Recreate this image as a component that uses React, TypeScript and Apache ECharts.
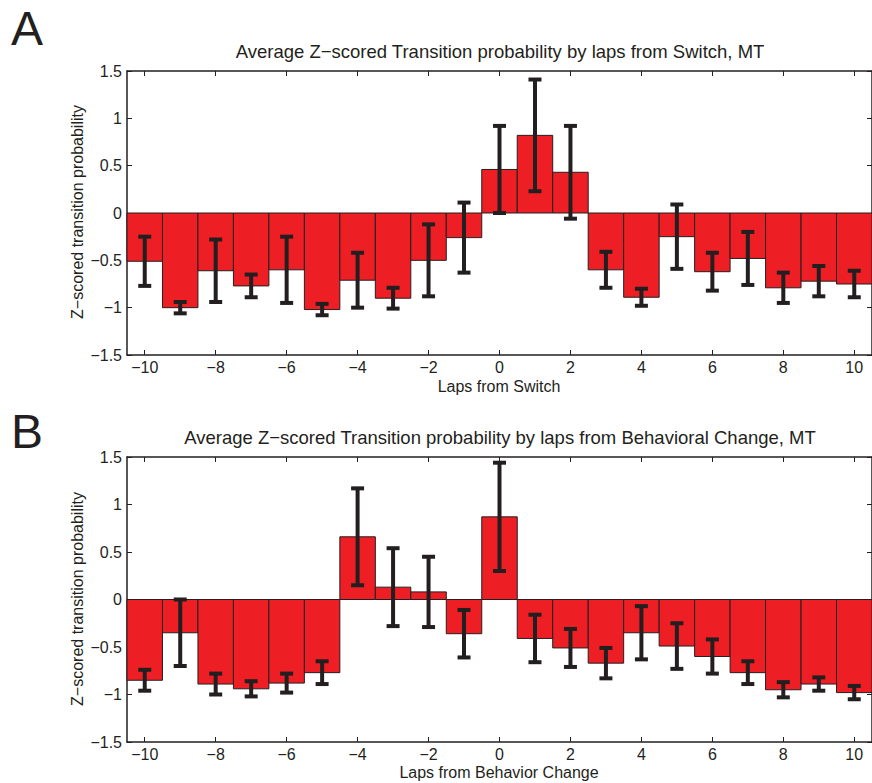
import React, { useEffect, useRef } from "react";
import * as echarts from "echarts";

// Laps relative to the event (x positions of the bars)
const LAPS = [-10, -9, -8, -7, -6, -5, -4, -3, -2, -1, 0, 1, 2, 3, 4, 5, 6, 7, 8, 9, 10];
const X_TICKS = [-10, -8, -6, -4, -2, 0, 2, 4, 6, 8, 10];

// Panel A: laps from switch
const SWITCH_MEAN = [-0.51, -1.0, -0.61, -0.77, -0.6, -1.02, -0.71, -0.9, -0.5, -0.26, 0.46, 0.82, 0.43, -0.6, -0.89, -0.25, -0.62, -0.48, -0.79, -0.72, -0.75];
const SWITCH_ERR = [0.26, 0.06, 0.33, 0.12, 0.35, 0.06, 0.29, 0.11, 0.38, 0.37, 0.46, 0.59, 0.49, 0.19, 0.09, 0.34, 0.2, 0.28, 0.16, 0.16, 0.14];

// Panel B: laps from behavior change
const BEHAV_MEAN = [-0.85, -0.35, -0.89, -0.94, -0.88, -0.77, 0.66, 0.13, 0.08, -0.36, 0.87, -0.41, -0.51, -0.67, -0.35, -0.49, -0.6, -0.77, -0.95, -0.89, -0.98];
const BEHAV_ERR = [0.11, 0.35, 0.11, 0.08, 0.1, 0.12, 0.51, 0.41, 0.37, 0.25, 0.57, 0.25, 0.2, 0.16, 0.28, 0.24, 0.18, 0.12, 0.08, 0.07, 0.07];

const TITLE_A = "Average Z\u2212scored Transition probability by laps from Switch, MT";
const TITLE_B = "Average Z\u2212scored Transition probability by laps from Behavioral Change, MT";
const XNAME_A = "Laps from Switch";
const XNAME_B = "Laps from Behavior Change";
const YNAME = "Z\u2212scored transition probability";

const FONT = "'Liberation Sans', Arial, Helvetica, sans-serif";
const INK = "#231F20";
const RED = "#ED1F24";

const fmtNum = (v: number) => String(v).replace("-", "\u2212");

function axesFor(gridIndex: number) {
  const line = { show: true, onZero: false, lineStyle: { color: INK, width: 1.5 } };
  const tick = { show: true, inside: true, length: 5, lineStyle: { color: INK, width: 1 } };
  const xBottom = {
    type: "value",
    gridIndex,
    position: "bottom",
    min: -10.5,
    max: 10.5,
    axisLine: line,
    axisTick: { ...tick, customValues: X_TICKS },
    axisLabel: {
      customValues: X_TICKS,
      formatter: (v: number) => fmtNum(v),
      fontFamily: FONT,
      fontSize: 16,
      color: INK,
      margin: 4,
    },
    splitLine: { show: false },
  };
  const xTop = {
    type: "value",
    gridIndex,
    position: "top",
    min: -10.5,
    max: 10.5,
    axisLine: line,
    axisTick: { ...tick, customValues: X_TICKS },
    axisLabel: { show: false },
    splitLine: { show: false },
  };
  const yLeft = {
    type: "value",
    gridIndex,
    position: "left",
    min: -1.5,
    max: 1.5,
    interval: 0.5,
    axisLine: line,
    axisTick: tick,
    axisLabel: {
      formatter: (v: number) => fmtNum(v),
      fontFamily: FONT,
      fontSize: 16,
      color: INK,
      margin: 5,
    },
    splitLine: { show: false },
  };
  const yRight = {
    type: "value",
    gridIndex,
    position: "right",
    min: -1.5,
    max: 1.5,
    interval: 0.5,
    axisLine: line,
    axisTick: tick,
    axisLabel: { show: false },
    splitLine: { show: false },
  };
  return { x: [xBottom, xTop], y: [yLeft, yRight] };
}

function barSeries(axisIndex: number, means: number[]) {
  return {
    type: "custom",
    xAxisIndex: axisIndex,
    yAxisIndex: axisIndex,
    clip: false,
    data: LAPS.map((x, i) => [x, means[i]]),
    encode: { x: 0, y: 1 },
    renderItem: (params: any, api: any) => {
      const x = api.value(0);
      const v = api.value(1);
      const p0 = api.coord([x - 0.5, 0]);
      const p1 = api.coord([x + 0.5, v]);
      return {
        type: "rect",
        shape: {
          x: p0[0],
          y: Math.min(p0[1], p1[1]),
          width: p1[0] - p0[0],
          height: Math.abs(p1[1] - p0[1]),
        },
        style: { fill: RED, stroke: INK, lineWidth: 1 },
      };
    },
  };
}

function errorSeries(axisIndex: number, means: number[], errs: number[]) {
  return {
    type: "custom",
    xAxisIndex: axisIndex,
    yAxisIndex: axisIndex,
    clip: false,
    z: 5,
    data: LAPS.map((x, i) => [x, means[i] - errs[i], means[i] + errs[i]]),
    encode: { x: 0, y: [1, 2] },
    renderItem: (params: any, api: any) => {
      const x = api.value(0);
      const lo = api.coord([x, api.value(1)]);
      const hi = api.coord([x, api.value(2)]);
      const cap = 6.5;
      const style = { stroke: INK, lineWidth: 4 };
      return {
        type: "group",
        children: [
          { type: "line", shape: { x1: lo[0], y1: lo[1], x2: hi[0], y2: hi[1] }, style },
          { type: "line", shape: { x1: lo[0] - cap, y1: lo[1], x2: lo[0] + cap, y2: lo[1] }, style },
          { type: "line", shape: { x1: hi[0] - cap, y1: hi[1], x2: hi[0] + cap, y2: hi[1] }, style },
        ],
      };
    },
  };
}

function label(text: string, x: number, y: number, size: number, extra: any = {}) {
  return {
    type: "text",
    x,
    y,
    silent: true,
    ...extra,
    style: {
      text,
      fontFamily: FONT,
      fontSize: size,
      fill: INK,
      align: "center",
      verticalAlign: "middle",
      ...(extra.style || {}),
    },
  };
}

export default function App() {
  const ref = useRef<HTMLDivElement>(null);

  useEffect(() => {
    if (!ref.current) return;
    const chart = echarts.init(ref.current, null, { renderer: "svg" });
    const a = axesFor(0);
    const b = axesFor(1);
    // xAxis/yAxis indices: 0 bottom A, 1 top A, 2 bottom B, 3 top B
    const sA0 = barSeries(0, SWITCH_MEAN);
    const sA1 = errorSeries(0, SWITCH_MEAN, SWITCH_ERR);
    const sB0 = barSeries(2, BEHAV_MEAN);
    const sB1 = errorSeries(2, BEHAV_MEAN, BEHAV_ERR);

    chart.setOption({
      animation: false,
      backgroundColor: "#ffffff",
      grid: [
        { left: 127, right: -3, top: 71, height: 284 },
        { left: 127, right: -3, top: 457, height: 285 },
      ],
      xAxis: [...a.x, ...b.x],
      yAxis: [...a.y, ...b.y],
      series: [sA0, sA1, sB0, sB1],
      graphic: [
        label("A", 27, 28, 48),
        label("B", 27, 431, 48),
        label(TITLE_A, 500, 51, 18.5),
        label(TITLE_B, 500, 437, 18.5),
        label(XNAME_A, 499, 386, 16),
        label(XNAME_B, 499, 772, 16),
        label(YNAME, 77, 212, 16, { rotation: Math.PI / 2 }),
        label(YNAME, 77, 599, 16, { rotation: Math.PI / 2 }),
      ],
    });
    return () => chart.dispose();
  }, []);

  return (
    <div
      ref={ref}
      style={{ position: "fixed", left: 0, top: 0, width: 872, height: 783, background: "#fff" }}
    />
  );
}
